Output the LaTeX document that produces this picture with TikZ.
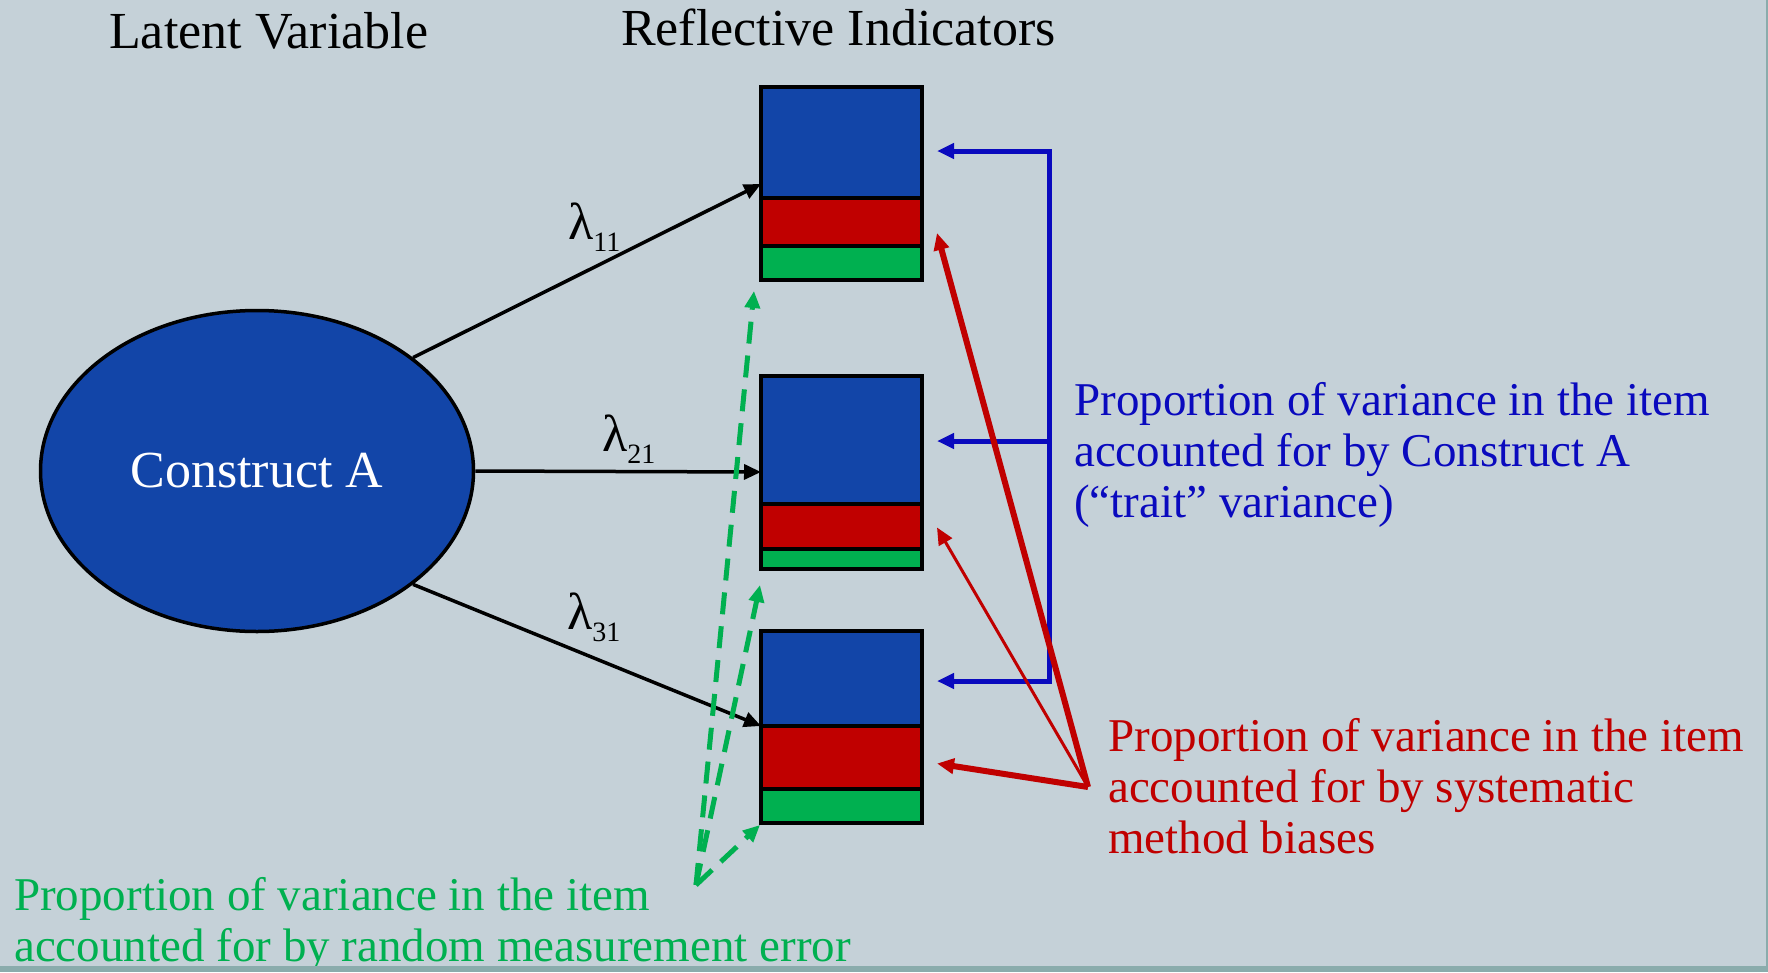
\documentclass[tikz,border=0pt]{standalone}
\usepackage{fontspec}
\setmainfont{Liberation Serif}
\usepackage{xcolor}
\usetikzlibrary{calc, shapes.geometric, positioning, arrows.meta}
\definecolor{slatebg}{RGB}{197, 209, 216}
\definecolor{bandteal}{RGB}{138, 172, 172}
\definecolor{traitblue}{RGB}{18, 69, 168}
\definecolor{arrowblue}{RGB}{10, 10, 190}
\definecolor{methodred}{RGB}{192, 0, 0}
\definecolor{errorgreen}{RGB}{0, 176, 80}

\begin{document}
\begin{tikzpicture}[x=1pt, y=-1pt,
    >={Triangle[length=17pt, width=15pt]},
    part/.style={draw=black, line width=3.5pt, outer sep=0pt, inner sep=0pt, minimum width=161pt},
    load/.style={draw=black, line width=3.5pt, ->},
    trait/.style={draw=arrowblue, line width=5pt},
    method/.style={draw=methodred, line width=6pt, ->},
    noise/.style={draw=errorgreen, line width=5pt, dash pattern=on 22pt off 12pt, ->},
    heading/.style={anchor=base west, inner sep=0pt, font=\fontsize{52}{60}\selectfont},
    lamlabel/.style={anchor=base west, inner sep=0pt, font=\fontsize{52}{60}\selectfont},
    note/.style={anchor=base west, align=left, inner sep=0pt, font=\fontsize{47}{51}\selectfont}]
    % background
    \useasboundingbox (0,0) rectangle (1768,972);
    \fill[slatebg] (0,0) rectangle (1768,972);
    \fill[bandteal] (1766,0) rectangle (1768,972);

    % headings
    \node[heading] (lvhead) at (109,48) {Latent Variable};
    \node[heading] (rihead) at (621,45) {Reflective Indicators};

    % latent construct
    \node[ellipse, draw=black, line width=3.5pt, fill=traitblue, text=white,
        minimum width=433pt, minimum height=321pt, inner sep=0pt,
        font=\fontsize{52}{60}\selectfont] (cA) at (257,471) {Construct A};

    % indicator boxes
    \node[part, fill=traitblue, minimum height=111pt, anchor=north west] (blue1) at (761,87) {};
    \node[part, fill=methodred, minimum height=48pt, below=0pt of blue1] (red1) {};
    \node[part, fill=errorgreen, minimum height=34pt, below=0pt of red1] (green1) {};

    \node[part, fill=traitblue, minimum height=128pt, anchor=north west] (blue2) at (761,376) {};
    \node[part, fill=methodred, minimum height=45pt, below=0pt of blue2] (red2) {};
    \node[part, fill=errorgreen, minimum height=20pt, below=0pt of red2] (green2) {};

    \node[part, fill=traitblue, minimum height=95pt, anchor=north west] (blue3) at (761,631) {};
    \node[part, fill=methodred, minimum height=63pt, below=0pt of blue3] (red3) {};
    \node[part, fill=errorgreen, minimum height=34pt, below=0pt of red3] (green3) {};

    % loadings
    \draw[load] (cA.36) -- ([yshift=14pt]blue1.south west);
    \draw[load] (cA.east) -- ([yshift=32pt]blue2.south west);
    \draw[load] (cA.-36) -- (blue3.south west);
    \node[lamlabel] (l11) at (568,239) {λ\raisebox{-12pt}{\fontsize{28}{28}\selectfont 11}};
    \node[lamlabel] (l21) at (602,451) {λ\raisebox{-12pt}{\fontsize{28}{28}\selectfont 21}};
    \node[lamlabel] (l31) at (567,629) {λ\raisebox{-12pt}{\fontsize{28}{28}\selectfont 31}};

    % random error
    \coordinate (gp) at (696,885);
    \coordinate (e1) at ($(green1.south west)+(-7,11)$);
    \coordinate (e2) at ($(green2.south west)+(-1,16)$);
    \coordinate (e3) at ($(green3.south west)+(-1,2)$);
    \foreach \k in {1,2,3} {
        \draw[noise] (gp) -- (e\k);
    }

    % trait variance
    \coordinate (brT) at (1049,151);
    \coordinate (brM) at (1049,441);
    \coordinate (brB) at (1049,681);
    \draw[trait, <->, shorten <=15pt, shorten >=15pt]
        (blue1.east |- brT) -- (brT) -- (brB) -- (blue3.east |- brB);
    \draw[trait, ->, shorten >=15pt] (brM) -- (blue2.east |- brM);

    % method bias
    \coordinate (rp) at (1088,787);
    \coordinate (m1) at ($(red1.east)+(15,11)$);
    \coordinate (m2) at ($(red2.east)+(15,1)$);
    \coordinate (m3) at ($(red3.east)+(15,6)$);
    \draw[method] (rp) -- (m1);
    \draw[method, line width=3pt] (rp) -- (m2);
    \draw[method] (rp) -- (m3);

    % notes
    \node[note, text=arrowblue] (tnote) at (1074,517)
        {Proportion of variance in the item\\accounted for by Construct A\\(“trait” variance)};
    \node[note, text=methodred] (mnote) at (1108,853)
        {Proportion of variance in the item\\accounted for by systematic\\method biases};
    \node[note, text=errorgreen] (enote) at (14,961)
        {Proportion of variance in the item\\accounted for by random measurement error};
    \fill[bandteal] (0,966) rectangle (1768,972);
\end{tikzpicture}
\end{document}
